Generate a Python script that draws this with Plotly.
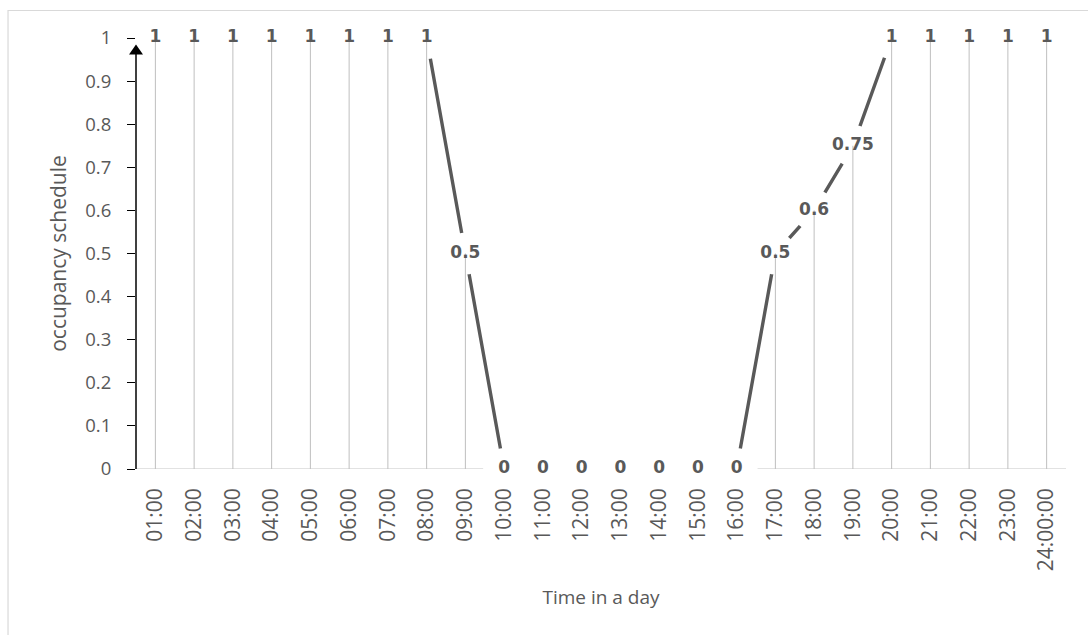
import plotly.graph_objects as go

# Hourly occupancy schedule
hours = ["01:00", "02:00", "03:00", "04:00", "05:00", "06:00", "07:00", "08:00",
         "09:00", "10:00", "11:00", "12:00", "13:00", "14:00", "15:00", "16:00",
         "17:00", "18:00", "19:00", "20:00", "21:00", "22:00", "23:00", "24:00:00"]
occupancy = [1, 1, 1, 1, 1, 1, 1, 1, 0.5, 0, 0, 0, 0, 0, 0, 0,
             0.5, 0.6, 0.75, 1, 1, 1, 1, 1]
y_ticks = [0, 0.1, 0.2, 0.3, 0.4, 0.5, 0.6, 0.7, 0.8, 0.9, 1]

LABEL_GREY = "#595959"
LINE_GREY = "#595959"
DROP_GREY = "#bfbfbf"
AXIS_FONT = "Open Sans"

# drop lines from each point down to the category axis
drop_x, drop_y = [], []
for h, v in zip(hours, occupancy):
    drop_x += [h, h, None]
    drop_y += [0, v, None]

fig = go.Figure()

# schedule line
fig.add_trace(go.Scatter(
    x=hours, y=occupancy, mode="lines",
    line=dict(color=LINE_GREY, width=3.4),
    cliponaxis=False, hoverinfo="skip", showlegend=False,
))

# white halo behind each data label
fig.add_trace(go.Scatter(
    x=hours, y=occupancy, mode="markers",
    marker=dict(color="white", size=42, line=dict(width=0)),
    cliponaxis=False, hoverinfo="skip", showlegend=False,
))

fig.add_trace(go.Scatter(
    x=drop_x, y=drop_y, mode="lines",
    line=dict(color=DROP_GREY, width=1),
    cliponaxis=False, hoverinfo="skip", showlegend=False,
))

# data labels
fig.add_trace(go.Scatter(
    x=hours, y=occupancy, mode="text",
    text=[f"{v:g}" for v in occupancy],
    textposition="middle center",
    textfont=dict(family="DejaVu Sans", size=17, color=LABEL_GREY, weight="bold"),
    cliponaxis=False, hoverinfo="skip", showlegend=False,
))

# category axis baseline, kept under the label halos
fig.add_shape(type="line", xref="paper", yref="y", x0=0, x1=1, y0=0, y1=0,
              line=dict(color="#d9d9d9", width=1.5), layer="below")

# y axis drawn as an arrow
fig.add_shape(type="line", xref="paper", yref="y", x0=0, x1=0, y0=0, y1=0.966,
              line=dict(color="black", width=1.5))
fig.add_shape(type="path", xref="paper", yref="y", xsizemode="pixel", xanchor=0,
              path="M-7,0.962 L7,0.962 L0,0.985 Z",
              fillcolor="black", line=dict(color="black", width=0))

# chart-area border
fig.add_shape(type="rect", xref="paper", yref="paper",
              x0=-0.1376, x1=1.2, y0=-1.0, y1=1.0638,
              line=dict(color="#d9d9d9", width=1.2), fillcolor="rgba(0,0,0,0)",
              layer="below")

fig.update_layout(
    width=1088, height=635,
    margin=dict(l=136, r=22, t=38, b=166),
    paper_bgcolor="white", plot_bgcolor="white",
    showlegend=False,
    xaxis=dict(
        type="category", categoryorder="array", categoryarray=hours,
        range=[-0.5, len(hours) - 0.5],
        showgrid=False, zeroline=False, showline=False,
        ticks="", tickangle=-90,
        tickfont=dict(family=AXIS_FONT, size=21, color=LABEL_GREY),
        ticklabelstandoff=14,
        title=dict(text="Time in a day", standoff=20,
                   font=dict(family=AXIS_FONT, size=19, color=LABEL_GREY)),
    ),
    yaxis=dict(
        range=[0, 1], tickvals=y_ticks, ticktext=[f"{t:g}" for t in y_ticks],
        showgrid=False, zeroline=False, showline=False,
        ticks="outside", ticklen=8, tickcolor="black", tickwidth=1.3,
        tickfont=dict(family=AXIS_FONT, size=18.5, color=LABEL_GREY),
        ticklabelstandoff=12,
        title=dict(text="occupancy schedule", standoff=12,
                   font=dict(family=AXIS_FONT, size=21, color=LABEL_GREY)),
    ),
)

fig.write_html("out.html")
